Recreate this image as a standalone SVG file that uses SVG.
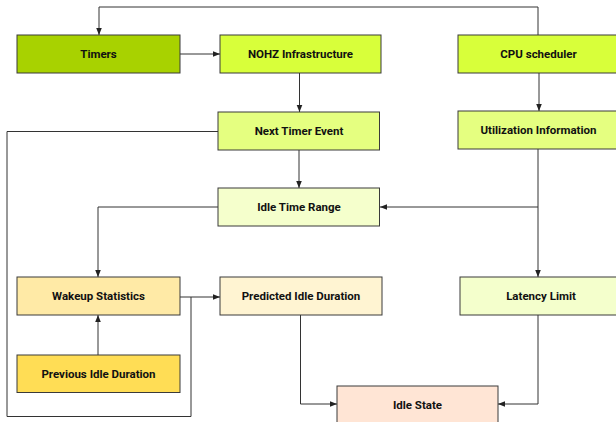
<svg xmlns="http://www.w3.org/2000/svg" width="616" height="422" viewBox="0 0 616 422">
<style>
.box{stroke:#3a3a3a;stroke-width:1}
.t{font-family:Roboto,"Liberation Sans",sans-serif;font-weight:bold;font-size:11.5px;fill:#111;text-anchor:middle;dominant-baseline:central}
.c{fill:none;stroke:#333;stroke-width:1}
</style>
<defs>
<marker id="a" viewBox="0 0 10 10" refX="10" refY="5" markerWidth="7" markerHeight="7" orient="auto" markerUnits="userSpaceOnUse">
<path d="M0,1 L10,5 L0,9 Z" fill="#222"/>
</marker>
</defs>
<rect width="616" height="422" fill="#ffffff"/>
<g id="connectors">
<path class="c" d="M538,35 V7 H99 V35" marker-end="url(#a)"/>
<path class="c" d="M180,54 H220" marker-end="url(#a)"/>
<path class="c" d="M299.5,73 V112" marker-end="url(#a)"/>
<path class="c" d="M539,73 V111" marker-end="url(#a)"/>
<path class="c" d="M299,150 V188" marker-end="url(#a)"/>
<path class="c" d="M538,149 V277" marker-end="url(#a)"/>
<path class="c" d="M538,207 H380" marker-end="url(#a)"/>
<path class="c" d="M218,207 H98 V277" marker-end="url(#a)"/>
<path class="c" d="M218,131.5 H7 V416.5 H191 V297"/>
<path class="c" d="M180,297 H220" marker-end="url(#a)"/>
<path class="c" d="M98,355 V315" marker-end="url(#a)"/>
<path class="c" d="M300.5,315 V404 H337" marker-end="url(#a)"/>
<path class="c" d="M538,315 V404 H498" marker-end="url(#a)"/>
</g>
<g id="timers"><rect class="box" x="17" y="35" width="163" height="38" fill="#a8d200"/><text class="t" x="98.5" y="54">Timers</text></g>
<g id="nohz"><rect class="box" x="220" y="35" width="161" height="38" fill="#d8ff3a"/><text class="t" x="300.5" y="54">NOHZ Infrastructure</text></g>
<g id="cpu"><rect class="box" x="458" y="35" width="162" height="38" fill="#d8ff3a"/><text class="t" x="538.5" y="54">CPU scheduler</text></g>
<g id="nexttimer"><rect class="box" x="218" y="112" width="161.5" height="38" fill="#e5ff80"/><text class="t" x="299" y="131">Next Timer Event</text></g>
<g id="util"><rect class="box" x="458" y="111" width="162" height="38" fill="#e5ff80"/><text class="t" x="538.5" y="130">Utilization Information</text></g>
<g id="idletime"><rect class="box" x="218" y="188" width="161.5" height="38" fill="#f5ffcc"/><text class="t" x="299" y="207">Idle Time Range</text></g>
<g id="wakeup"><rect class="box" x="17" y="277" width="163" height="38" fill="#ffeaa6"/><text class="t" x="98.5" y="296">Wakeup Statistics</text></g>
<g id="predicted"><rect class="box" x="220" y="277" width="162" height="38" fill="#fff4d2"/><text class="t" x="301" y="296">Predicted Idle Duration</text></g>
<g id="latency"><rect class="box" x="460" y="277" width="162" height="38" fill="#f4ffcc"/><text class="t" x="541" y="296">Latency Limit</text></g>
<g id="previous"><rect class="box" x="17" y="355" width="163" height="37.5" fill="#ffdd55"/><text class="t" x="98.5" y="374">Previous Idle Duration</text></g>
<g id="idlestate"><rect class="box" x="337" y="386" width="161" height="38" fill="#ffe5d5"/><text class="t" x="417.5" y="405">Idle State</text></g>
</svg>
